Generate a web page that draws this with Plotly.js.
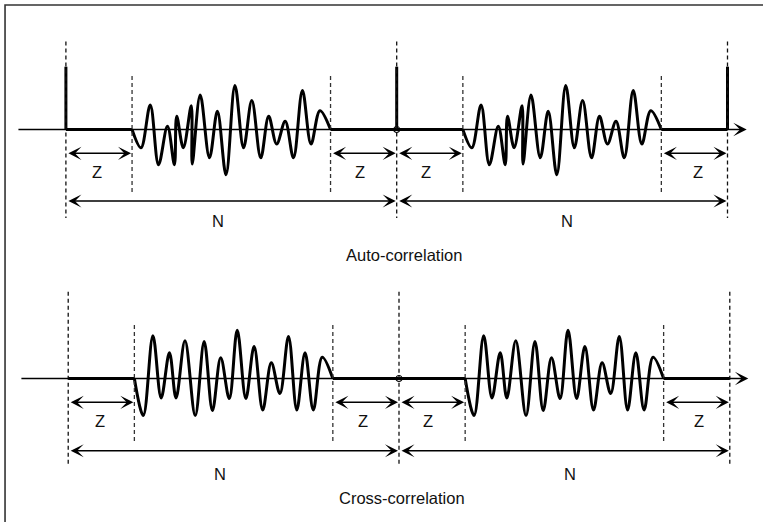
<!DOCTYPE html>
<html>
<head>
<meta charset="utf-8">
<script src="https://cdn.plot.ly/plotly-3.0.1.min.js"></script>
<style>html,body{margin:0;padding:0;background:#fff;}#chart{width:763px;height:522px;}</style>
</head>
<body>
<div id="chart"></div>
<script>
// ---- data (lag in samples, amplitude normalised to the auto-correlation peak) ----
const periodN = 100;          // N
const zeroPadZ = 20;          // Z
const spikeLag = [-100, 0, 100];
const spikeVal = [1, 1, 1];

// auto-correlation side lobe (extrema), lag -80 .. -20
const autoLag = [-80, -77.3, -74.5, -72.0, -69.3, -67.2, -66.5, -64.5, -62.1, -61.8, -59.4, -56.6, -54.2,
                 -51.6, -48.9, -46.3, -43.8, -41.1, -38.7, -36.3, -33.7, -31.2, -28.5, -25.9, -23.2, -20];
const autoVal = [0, -0.29, 0.39, -0.56, 0.05, -0.56, 0.21, -0.29, 0.38, -0.55, 0.55, -0.45, 0.29,
                 -0.72, 0.70, -0.29, 0.46, -0.45, 0.21, -0.23, 0.13, -0.45, 0.62, -0.23, 0.30, 0];

// cross-correlation lobe, lag -80 .. -20
const crossLag = [-80, -77.3, -74.4, -71.9, -69.4, -67.4, -64.7, -61.6, -58.9, -56.4, -53.9, -51.3,
                  -48.9, -46.3, -43.8, -41.2, -38.6, -36.0, -33.4, -30.9, -28.4, -25.9, -23.2, -20];
const crossVal = [0, -0.59, 0.68, -0.31, 0.41, -0.31, 0.60, -0.59, 0.59, -0.51, 0.33, -0.32,
                  0.77, -0.32, 0.51, -0.50, 0.25, -0.24, 0.67, -0.50, 0.41, -0.50, 0.34, 0];

const titleAuto = 'Auto-correlation';
const titleCross = 'Cross-correlation';
const labelZ = 'Z';
const labelN = 'N';

// ---- build ----
const shift = (arr, d) => arr.map(v => v + d);
const FONT = {family: 'Liberation Sans, Arial, sans-serif', size: 16.5, color: '#111'};
const BLACK = '#000';

function panelTraces(xa, ya, lag, val, withSpikes) {
  const t = [];
  const lobe = {mode: 'lines', line: {color: BLACK, width: 3, shape: 'spline', smoothing: 1}, xaxis: xa, yaxis: ya, hoverinfo: 'skip'};
  t.push(Object.assign({x: lag, y: val}, lobe));
  t.push(Object.assign({x: shift(lag, periodN), y: val}, lobe));
  // zero stretches (thick)
  const zx = [-periodN, -periodN + zeroPadZ, null, -zeroPadZ, zeroPadZ, null, periodN - zeroPadZ, periodN];
  const zy = [0, 0, null, 0, 0, null, 0, 0];
  t.push({x: zx, y: zy, mode: 'lines', line: {color: BLACK, width: 3}, xaxis: xa, yaxis: ya, hoverinfo: 'skip'});
  if (withSpikes) {
    const sx = [], sy = [];
    spikeLag.forEach((l, i) => { sx.push(l, l, null); sy.push(0, spikeVal[i], null); });
    t.push({x: sx, y: sy, mode: 'lines', line: {color: BLACK, width: 3}, xaxis: xa, yaxis: ya, hoverinfo: 'skip'});
  }
  t.push({x: [0], y: [0], mode: 'markers', marker: {symbol: 'circle-open', size: 6, color: BLACK, line: {width: 1.2, color: BLACK}}, xaxis: xa, yaxis: ya, hoverinfo: 'skip'});
  return t;
}

const traces = [].concat(
  panelTraces('x', 'y', autoLag, autoVal, true),
  panelTraces('x2', 'y2', crossLag, crossVal, false)
);

const shapes = [];
const annotations = [];

function panelDecor(xr, yr, g) {
  // thin axis line with arrow
  annotations.push({xref: xr, yref: yr, axref: xr, ayref: yr, x: g.axEnd, y: 0, ax: g.axStart, ay: 0,
    text: '', showarrow: true, arrowhead: 3, arrowsize: 1.6, arrowwidth: 1.4, arrowcolor: BLACK, standoff: 0});
  // dashed guides
  const outer = [-periodN, 0, periodN];
  const inner = [-periodN + zeroPadZ, -zeroPadZ, zeroPadZ, periodN - zeroPadZ];
  outer.forEach(l => shapes.push({type: 'line', xref: xr, yref: yr, x0: l, x1: l, y0: g.outerTop, y1: g.outerBot,
    line: {color: '#111', width: 1.3, dash: '4px,3px'}}));
  inner.forEach(l => shapes.push({type: 'line', xref: xr, yref: yr, x0: l, x1: l, y0: g.innerTop, y1: g.innerBot,
    line: {color: '#333', width: 1.3, dash: '4px,3px'}}));
  // dimension arrows
  const dbl = (a, b, y) => annotations.push({xref: xr, yref: yr, axref: xr, ayref: yr, x: b, y: y, ax: a, ay: y,
    text: '', showarrow: true, arrowhead: 3, startarrowhead: 3, arrowside: 'end+start', arrowsize: 1.45, startarrowsize: 1.45,
    arrowwidth: 1.5, arrowcolor: BLACK, standoff: 1, startstandoff: 1});
  [[-periodN, -periodN + zeroPadZ], [-zeroPadZ, 0], [0, zeroPadZ], [periodN - zeroPadZ, periodN]].forEach(p => dbl(p[0], p[1], g.zArrow));
  [[-periodN, 0], [0, periodN]].forEach(p => dbl(p[0], p[1], g.nArrow));
  g.zLabelX.forEach(x => annotations.push({xref: xr, yref: yr, x: x, y: g.zLabelY, text: labelZ, showarrow: false, font: FONT}));
  g.nLabelX.forEach(x => annotations.push({xref: xr, yref: yr, x: x, y: g.nLabelY, text: labelN, showarrow: false, font: FONT}));
  annotations.push({xref: xr, yref: yr, x: g.titleX, y: g.titleY, text: g.title, showarrow: false, font: FONT});
}

panelDecor('x', 'y', {axStart: -114.8, axEnd: 105.8, outerTop: 1.40, outerBot: -1.41, innerTop: 0.85, innerBot: -1.03,
  zArrow: -0.38, nArrow: -1.14, zLabelX: [-90.6, -11.1, 9.0, 91.1], zLabelY: -0.67, nLabelX: [-53.9, 51.6], nLabelY: -1.45,
  titleX: 2.2, titleY: -2.0, title: titleAuto});
panelDecor('x2', 'y2', {axStart: -114.6, axEnd: 105.6, outerTop: 1.38, outerBot: -1.40, innerTop: 0.85, innerBot: -1.03,
  zArrow: -0.38, nArrow: -1.15, zLabelX: [-90.4, -10.9, 8.8, 90.7], zLabelY: -0.68, nLabelX: [-54, 51.6], nLabelY: -1.52,
  titleX: 0.8, titleY: -1.90, title: titleCross});

// frame (top and left edges visible)
shapes.push({type: 'path', xref: 'paper', yref: 'paper', path: 'M 0.0066,-0.02 L 0.0066,0.9904 L 1.02,0.9904',
  line: {color: '#333', width: 1.6}});

const hidden = {visible: false, showgrid: false, zeroline: false, fixedrange: true};
const layout = {
  width: 763, height: 522,
  margin: {l: 0, r: 0, t: 0, b: 0},
  paper_bgcolor: '#fff', plot_bgcolor: '#fff',
  showlegend: false,
  xaxis: Object.assign({range: [-119.92, 110.73], domain: [0, 1]}, hidden),
  yaxis: Object.assign({range: [-6.25, 2.062], domain: [0, 1]}, hidden),
  xaxis2: Object.assign({range: [-120.62, 110.04], overlaying: 'x', anchor: 'y2'}, hidden),
  yaxis2: Object.assign({range: [-2.285, 6.027], overlaying: 'y', anchor: 'x2'}, hidden),
  shapes: shapes,
  annotations: annotations
};

Plotly.newPlot('chart', traces, layout, {staticPlot: true, displayModeBar: false});
</script>
</body>
</html>
